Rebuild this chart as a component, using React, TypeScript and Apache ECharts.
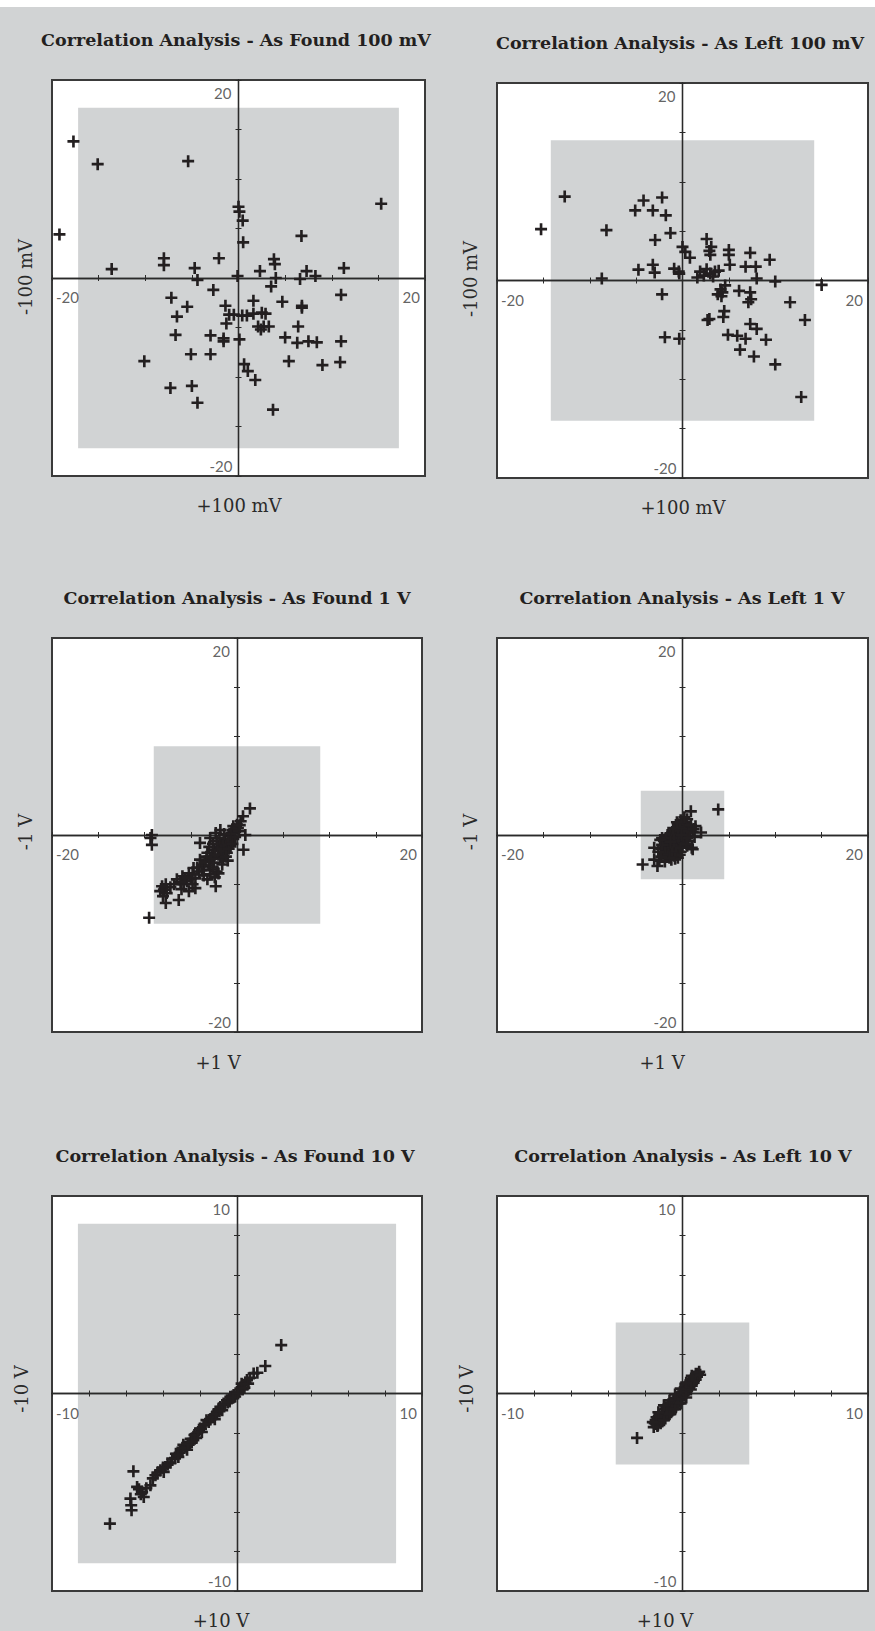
import React, { useEffect, useRef } from "react";
import * as echarts from "echarts";

// ---------- data ----------
const titles = [
  "Correlation Analysis - As Found 100 mV",
  "Correlation Analysis - As Left 100 mV",
  "Correlation Analysis - As Found 1 V",
  "Correlation Analysis - As Left 1 V",
  "Correlation Analysis - As Found 10 V",
  "Correlation Analysis - As Left 10 V",
];
const xAxisNames = ["+100 mV", "+100 mV", "+1 V", "+1 V", "+10 V", "+10 V"];
const yAxisNames = ["-100 mV", "-100 mV", "-1 V", "-1 V", "-10 V", "-10 V"];
const axisLimit = [20, 20, 20, 20, 10, 10];
const tickStep = [5, 5, 5, 5, 2, 2];
const toleranceLimit = [17.2, 14.2, 9.0, 4.5, 8.6, 3.6];
// top, bottom, left, right
const tickLabels = [
  ["20", "-20", "-20", "20"],
  ["20", "-20", "-20", "20"],
  ["20", "-20", "-20", "20"],
  ["20", "-20", "-20", "20"],
  ["10", "-10", "-10", "10"],
  ["10", "-10", "-10", "10"],
];

const asFound100mV = [
  [-17.7, 13.8], [-15.1, 11.5], [-5.4, 11.8], [15.3, 7.5], [-19.2, 4.4],
  [0.0, 7.2], [0.1, 6.7], [0.45, 5.8], [0.5, 3.6], [6.75, 4.25],
  [-13.6, 0.9], [-8.0, 2.0], [-8.0, 1.3], [-4.7, 1.0], [-4.4, -0.2], [-2.1, 2.0], [-0.1, 0.2],
  [3.8, 1.9], [3.9, 1.4], [2.3, 0.7], [4.0, 0.0], [3.5, -0.85], [6.6, -0.1], [7.3, 0.7], [8.25, 0.2],
  [11.3, 1.0], [11.0, -1.7], [-2.7, -1.2], [-7.2, -2.0], [-5.5, -2.9], [-6.6, -3.9], [-6.75, -5.75],
  [-1.4, -2.8], [-1.0, -3.7], [-0.5, -3.7], [0.4, -3.8], [0.9, -3.8], [1.6, -3.6], [2.5, -3.5], [2.9, -3.6],
  [1.6, -2.3], [4.7, -2.4], [6.8, -2.8], [6.8, -3.0], [-1.3, -4.6], [-3.0, -5.8], [-1.6, -6.1], [-1.6, -6.4],
  [0.1, -6.2], [2.1, -4.9], [2.7, -4.9], [3.25, -4.9], [2.4, -5.2], [6.4, -4.9], [5.0, -6.0], [6.3, -6.55],
  [7.5, -6.4], [8.4, -6.5], [11.0, -6.4], [-5.1, -7.7], [-3.0, -7.7], [-10.1, -8.4], [5.4, -8.4], [9.0, -8.8],
  [10.9, -8.5], [0.6, -8.7], [1.0, -9.4], [1.8, -10.3], [-7.3, -11.1], [-5.0, -10.9], [-4.4, -12.6], [3.7, -13.3],
];

const asLeft100mV = [
  [-15.25, 5.2], [-12.7, 8.5], [-8.7, 0.2], [-8.2, 5.1], [-5.1, 7.1], [-4.2, 8.1], [-3.2, 7.1], [-2.2, 8.4],
  [-1.8, 6.6], [-2.95, 4.1], [-1.3, 4.8], [-4.75, 1.1], [-3.2, 1.6], [-3.0, 0.8], [-2.2, -1.4], [-0.9, 1.2],
  [-0.35, 0.7], [-0.4, 0.9], [0.0, 3.4], [0.3, 2.9], [0.8, 2.3], [2.6, 4.2], [3.1, 3.4], [3.0, 2.6],
  [1.9, 0.9], [2.3, 0.5], [2.6, 1.15], [3.0, 0.7], [3.5, 0.9], [3.9, 1.0], [5.0, 3.1], [5.1, 1.6],
  [7.3, 2.8], [6.8, 1.4], [7.9, 1.4], [9.4, 2.1], [8.0, 0.2], [10.0, -0.1], [15.0, -0.45], [4.1, -0.9],
  [4.2, -1.6], [3.8, -1.4], [6.1, -1.05], [7.3, -1.2], [7.4, -1.9], [7.1, -2.2], [4.5, -3.1], [4.4, -3.7],
  [2.7, -4.0], [2.9, -3.9], [11.6, -2.2], [13.2, -4.0], [7.3, -4.4], [8.0, -4.9], [4.9, -5.5], [5.9, -5.6],
  [6.8, -5.9], [9.0, -6.0], [6.2, -7.0], [7.7, -7.7], [10.0, -8.5], [12.8, -11.8], [-1.9, -5.75], [-0.35, -5.9],
  [3.3, 0.4], [4.6, -0.5], [2.9, 3.0], [5.0, 2.6], [1.6, 0.3], [4.3, -1.2],
];

const asFound1V = [
  [-9.5, -8.4], [-9.2, 0.0], [-9.35, -0.3], [-9.2, -1.0], [1.4, 2.7], [0.65, 1.9], [0.9, 0.0], [0.7, -1.5],
  [-2.3, -5.2], [-6.3, -6.6], [-7.7, -6.9], [-8.3, -5.7], [-7.9, -5.55], [-7.7, -5.0], [-6.5, -4.5], [-5.9, -4.2],
  [-5.2, -5.7], [-4.5, -5.4], [-5.2, -3.9], [-4.7, -3.35], [-4.0, -0.8], [-4.0, -2.5], [-3.4, -2.7], [-2.9, -3.5],
  [-2.2, -3.7], [-2.0, -3.9], [-3.2, -1.8], [-2.5, -1.5], [-2.0, -2.0], [-2.9, -0.3], [-2.3, 0.2], [-1.8, 0.5],
  [-2.2, -0.6], [-1.6, -0.8], [-1.4, -1.5], [-1.1, -1.8], [-0.7, -1.15], [-0.9, -0.1], [-0.5, 0.5], [-0.4, 0.9],
  [0.0, 1.05], [0.4, 1.4], [0.1, 0.7], [-1.3, -0.5], [-0.7, -0.65], [-1.8, -2.3], [-2.5, -2.8], [-3.6, -3.2],
  [-4.1, -3.7], [-4.5, -4.4], [-5.4, -4.7], [-5.75, -5.0], [-3.2, -4.5], [-2.9, -4.0], [-1.2, -1.0], [-1.5, -2.4],
  [-0.4, -0.4], [-2.7, -2.2], [-3.8, -3.0], [-1.0, -2.6], [-0.2, 0.3], [-1.9, -1.2], [-3.0, -1.2],
  [-0.3, 0.6], [-0.6, 0.2], [-1.0, -0.4], [-1.5, -1.0], [-1.7, -1.6], [-2.1, -1.4], [-2.4, -2.0], [-2.8, -2.4],
  [-3.3, -2.2], [-3.5, -2.7], [-3.0, -3.1], [-2.6, -3.3], [-3.8, -3.6], [-4.3, -3.3], [-4.8, -4.0], [-5.0, -4.4],
  [-5.6, -4.4], [-6.1, -4.8], [-6.8, -5.0], [-7.2, -5.3], [-7.6, -5.9], [-8.0, -6.2], [-8.1, -5.2], [-6.0, -5.5],
  [-4.8, -5.0], [-3.6, -4.1], [-2.4, -4.3], [-1.6, -3.0], [-1.2, -2.2], [-0.9, -1.4], [-0.5, -0.9], [-0.2, -0.2],
  [0.2, 0.4], [0.3, 1.0], [-0.7, 0.1], [-1.4, 0.1], [-2.6, -0.9], [-1.9, -0.3],
];

const asLeft1V = [
  [3.85, 2.6], [-4.3, -3.0], [-3.05, -2.5], [-2.7, -3.15], [-3.05, -1.3], [2.0, 0.25], [1.1, -1.45], [0.9, 2.4],
  [-0.2, 1.5], [0.2, 1.3], [0.5, 1.6], [-0.5, 1.1], [0.0, 0.9], [0.4, 0.8], [0.9, 0.7], [1.1, 0.3],
  [0.8, -0.1], [1.3, -0.2], [1.0, -1.3], [0.5, -1.1], [-0.3, 0.5], [-0.7, 0.6], [-1.1, 0.3], [-0.8, 0.1],
  [-0.4, 0.0], [0.1, 0.2], [0.3, -0.3], [-0.1, -0.5], [-0.6, -0.4], [-1.0, -0.2], [-1.4, -0.5], [-1.6, 0.0],
  [-1.2, -0.8], [-0.8, -0.9], [-0.4, -1.0], [0.0, -1.2], [-0.2, -1.7], [-0.6, -1.5], [-1.0, -1.4], [-1.4, -1.2],
  [-1.8, -1.0], [-2.0, -0.6], [-1.7, -1.6], [-1.3, -1.9], [-0.9, -2.1], [-0.5, -2.3], [-1.2, -2.5], [-1.7, -2.2],
  [-2.1, -1.9], [-2.3, -1.4], [-1.9, -2.7], [-2.5, -2.6], [0.6, 0.2], [-2.2, -0.3], [0.6, -0.6], [1.4, 0.9],
  [-0.1, 1.2], [0.3, 1.1], [-0.3, 0.8], [0.2, 0.6], [0.7, 0.4], [-0.9, 0.4], [-1.3, 0.1], [-1.8, -0.3],
  [-1.5, -0.9], [-1.1, -1.1], [-0.7, -1.2], [-0.3, -0.7], [0.1, -0.8], [0.4, -0.9], [-0.5, -0.2], [-1.2, -0.3],
  [-1.6, -1.3], [-2.0, -1.3], [-2.2, -1.0], [-1.9, -1.8], [-1.5, -2.0], [-1.1, -1.7], [-0.7, -1.9], [-0.3, -2.0],
  [-0.8, -2.4], [-1.4, -2.3], [-2.3, -2.2], [-1.0, 0.7], [-0.6, 1.3], [0.2, 1.8], [0.9, 1.0], [1.2, 0.6],
  [0.5, -0.3], [-0.2, -1.3], [-2.4, -0.5], [-2.6, -1.7], [-0.1, 0.0], [-0.9, -0.6], [-1.3, -0.7],
];

const asFound10V = [
  [-6.87, -6.59], [-5.6, -3.94], [-5.76, -5.32], [-5.72, -5.66], [-5.7, -5.91], [-5.4, -4.73], [-5.13, -4.98],
  [-5.04, -5.24], [-4.68, -4.65], [-4.41, -4.14], [-4.14, -3.89], [-3.87, -3.72], [-3.96, -3.97], [-3.35, -3.29],
  [-3.17, -3.21], [-2.99, -2.87], [-2.81, -2.7], [-2.54, -2.53], [-2.36, -2.36], [-2.18, -2.03], [-2.0, -1.77],
  [-1.8, -1.6], [-1.53, -1.44], [-1.26, -1.1], [-1.08, -0.93], [-0.9, -0.68], [-0.72, -0.51], [-0.54, -0.34],
  [-0.36, -0.17], [-0.18, -0.08], [0.0, 0.08], [0.18, 0.25], [0.36, 0.42], [0.54, 0.68], [0.9, 1.01],
  [1.53, 1.39], [2.39, 2.45], [-2.9, -2.6], [-2.7, -2.85], [-2.5, -2.3], [-2.2, -2.25], [-3.1, -3.0],
  [-3.3, -3.05], [-1.65, -1.35], [-1.2, -1.3], [-1.0, -0.8], [-0.8, -0.85], [-0.4, -0.4], [-0.1, -0.15],
  [0.1, 0.1], [0.3, 0.2], [0.45, 0.55], [0.25, 0.5], [-4.9, -4.8], [-4.55, -4.3], [-2.3, -2.1], [-1.9, -1.95],
  [-3.6, -3.5], [-4.3, -4.0], [-4.0, -3.75], [-3.75, -3.6], [-3.5, -3.3], [-3.2, -3.1], [-2.95, -2.75],
  [-2.65, -2.55], [-2.45, -2.45], [-2.1, -1.95], [-1.95, -1.8], [-1.7, -1.55], [-1.45, -1.3], [-1.35, -1.2],
  [-1.15, -1.05], [-0.95, -0.9], [-0.65, -0.55], [-0.5, -0.45], [-0.3, -0.25], [-0.2, -0.2], [0.05, 0.0],
  [0.4, 0.3], [0.6, 0.5], [0.7, 0.8], [1.1, 1.05], [-5.3, -4.85], [-5.2, -5.1],
];

const asLeft10V = [
  [-2.45, -2.25], [-1.42, -1.55], [-1.38, -1.4], [-1.33, -1.6], [-1.3, -1.3], [-1.25, -1.45], [-1.2, -1.2],
  [-1.18, -1.5], [-1.12, -1.3], [-1.1, -1.05], [-1.05, -1.2], [-1.0, -0.95], [-0.98, -1.25], [-0.92, -1.05],
  [-0.9, -0.8], [-0.85, -0.95], [-0.8, -1.1], [-0.78, -0.7], [-0.72, -0.85], [-0.7, -0.6], [-0.65, -0.75],
  [-0.6, -0.9], [-0.55, -0.5], [-0.52, -0.7], [-0.48, -0.35], [-0.45, -0.6], [-0.4, -0.45], [-0.35, -0.25],
  [-0.3, -0.5], [-0.25, -0.3], [-0.2, -0.15], [-0.15, -0.35], [-0.1, -0.05], [-0.05, -0.2], [0.0, 0.05],
  [0.05, -0.1], [0.1, 0.15], [0.15, 0.0], [0.2, 0.3], [0.25, 0.15], [0.3, 0.4], [0.35, 0.25], [0.4, 0.45],
  [0.45, 0.6], [0.5, 0.4], [0.55, 0.7], [0.6, 0.55], [0.65, 0.8], [0.7, 0.7], [0.75, 0.95], [0.78, 0.85],
  [-0.75, -0.55], [-1.25, -1.05], [-1.45, -1.35], [-1.35, -1.65], [-1.28, -1.15], [-1.15, -1.35],
  [-1.08, -0.95], [-0.95, -1.15], [-0.88, -0.7], [-0.82, -1.0], [-0.68, -0.5], [-0.62, -0.95], [-0.58, -0.6],
  [-0.5, -0.8], [-0.42, -0.3], [-0.38, -0.65], [-0.28, -0.2], [-0.22, -0.5], [-0.12, 0.05], [-0.08, -0.3],
  [0.02, 0.2], [0.08, -0.05], [0.12, 0.3], [0.22, 0.1], [0.28, 0.5], [0.38, 0.35], [0.42, 0.65], [0.52, 0.5],
  [0.58, 0.85], [0.62, 0.65], [0.72, 1.0], [0.8, 0.95], [0.85, 1.0], [-1.5, -1.5], [-1.4, -1.2],
  [-1.0, -1.35], [-0.7, -1.05], [-0.4, -0.8], [-0.1, -0.5], [0.2, -0.2], [0.45, 0.2], [-1.3, -0.95],
  [-1.0, -0.6], [-0.7, -0.35], [-0.4, -0.05], [-0.1, 0.25], [0.2, 0.55], [0.5, 0.9], [-1.55, -1.7],
  [-1.6, -1.45], [0.9, 1.1], [0.95, 0.95],
];

const panelData = [asFound100mV, asLeft100mV, asFound1V, asLeft1V, asFound10V, asLeft10V];

// ---------- layout (pixels) ----------
const layout = [
  { left: 52, top: 80, width: 373, height: 396, tx: 236, ty: 40, xnx: 239, xny: 505, ynx: 25, yny: 277 },
  { left: 497, top: 83, width: 371, height: 395, tx: 680, ty: 43, xnx: 683, xny: 507, ynx: 470, yny: 279 },
  { left: 52, top: 638, width: 370, height: 394, tx: 237, ty: 598, xnx: 218, xny: 1062, ynx: 25, yny: 832 },
  { left: 497, top: 638, width: 371, height: 394, tx: 682, ty: 598, xnx: 662, xny: 1062, ynx: 470, yny: 832 },
  { left: 52, top: 1196, width: 370, height: 395, tx: 235, ty: 1156, xnx: 221, xny: 1620, ynx: 21, yny: 1389 },
  { left: 497, top: 1196, width: 371, height: 395, tx: 683, ty: 1156, xnx: 665, xny: 1620, ynx: 466, yny: 1389 },
];

const PAGE_BG = "#d1d3d4";
const INK = "#231f20";
const PLUS = "path://M3.9,0H6.1V3.9H10V6.1H6.1V10H3.9V6.1H0V3.9H3.9Z";

function buildOption() {
  const grid: any[] = [];
  const xAxis: any[] = [];
  const yAxis: any[] = [];
  const series: any[] = [];
  const graphic: any[] = [
    { type: "rect", shape: { x: 0, y: 0, width: 875, height: 7 }, style: { fill: "#ffffff" }, silent: true },
  ];
  const lineStyle = { color: "#2a2a2a", width: 1.3 };
  const tickStyle = { color: "#2a2a2a", width: 1 };

  layout.forEach((L, i) => {
    const M = axisLimit[i];
    grid.push({
      left: L.left, top: L.top, width: L.width, height: L.height,
      show: true, backgroundColor: "#ffffff", borderColor: "#3a3a3a", borderWidth: 2,
    });
    ["bottom", "top"].forEach((pos) => {
      xAxis.push({
        gridIndex: i, type: "value", min: -M, max: M, interval: tickStep[i], position: pos, z: 4,
        axisLine: { show: true, onZero: true, lineStyle },
        axisTick: { show: true, length: 3, lineStyle: tickStyle },
        axisLabel: { show: false }, splitLine: { show: false },
      });
    });
    ["left", "right"].forEach((pos) => {
      yAxis.push({
        gridIndex: i, type: "value", min: -M, max: M, interval: tickStep[i], position: pos, z: 4,
        axisLine: { show: true, onZero: true, lineStyle },
        axisTick: { show: true, length: 3, lineStyle: tickStyle },
        axisLabel: { show: false }, splitLine: { show: false },
      });
    });
    const lim = toleranceLimit[i];
    series.push({
      type: "scatter", xAxisIndex: 2 * i, yAxisIndex: 2 * i, z: 5,
      symbol: PLUS, symbolSize: 12,
      itemStyle: { color: INK, opacity: 1 },
      data: panelData[i],
      markArea: {
        silent: true,
        itemStyle: { color: PAGE_BG, opacity: 1 },
        data: [[{ coord: [-lim, lim] }, { coord: [lim, -lim] }]],
      },
    });
    const tl = tickLabels[i];
    series.push({
      type: "scatter", xAxisIndex: 2 * i, yAxisIndex: 2 * i, z: 6, silent: true,
      symbolSize: 0,
      label: {
        show: true, fontFamily: "Lato", fontSize: 15, color: "#3a3a3a",
        formatter: (p: any) => p.name,
      },
      data: [
        { name: tl[0], value: [0, M], label: { position: "left", distance: 7, offset: [0, 13] } },
        { name: tl[1], value: [0, -M], label: { position: "left", distance: 6, offset: [0, -10] } },
        { name: tl[2], value: [-M, 0], label: { position: "right", distance: 4, offset: [0, 19] } },
        { name: tl[3], value: [M, 0], label: { position: "left", distance: 5, offset: [0, 19] } },
      ],
    });
    graphic.push({
      type: "text", x: L.tx, y: L.ty, silent: true,
      style: {
        text: titles[i], fill: INK, align: "center", verticalAlign: "middle",
        font: 'bold 17.5px "DejaVu Serif"',
      },
    });
    graphic.push({
      type: "text", x: L.xnx, y: L.xny, silent: true,
      style: {
        text: xAxisNames[i], fill: "#2a2a2a", align: "center", verticalAlign: "middle",
        font: '18px "DejaVu Serif"',
      },
    });
    graphic.push({
      type: "text", x: L.ynx, y: L.yny, rotation: Math.PI / 2, silent: true,
      style: {
        text: yAxisNames[i], fill: "#2a2a2a", align: "center", verticalAlign: "middle",
        font: '18px "DejaVu Serif"',
      },
    });
  });

  return {
    animation: false,
    backgroundColor: PAGE_BG,
    grid, xAxis, yAxis, series, graphic,
  };
}

export default function App() {
  const ref = useRef<HTMLDivElement>(null);
  useEffect(() => {
    document.body.style.margin = "0";
    if (!ref.current) return;
    const chart = echarts.init(ref.current, null, { renderer: "svg" });
    chart.setOption(buildOption() as any);
    return () => chart.dispose();
  }, []);
  return <div ref={ref} style={{ width: 875, height: 1631 }} />;
}
